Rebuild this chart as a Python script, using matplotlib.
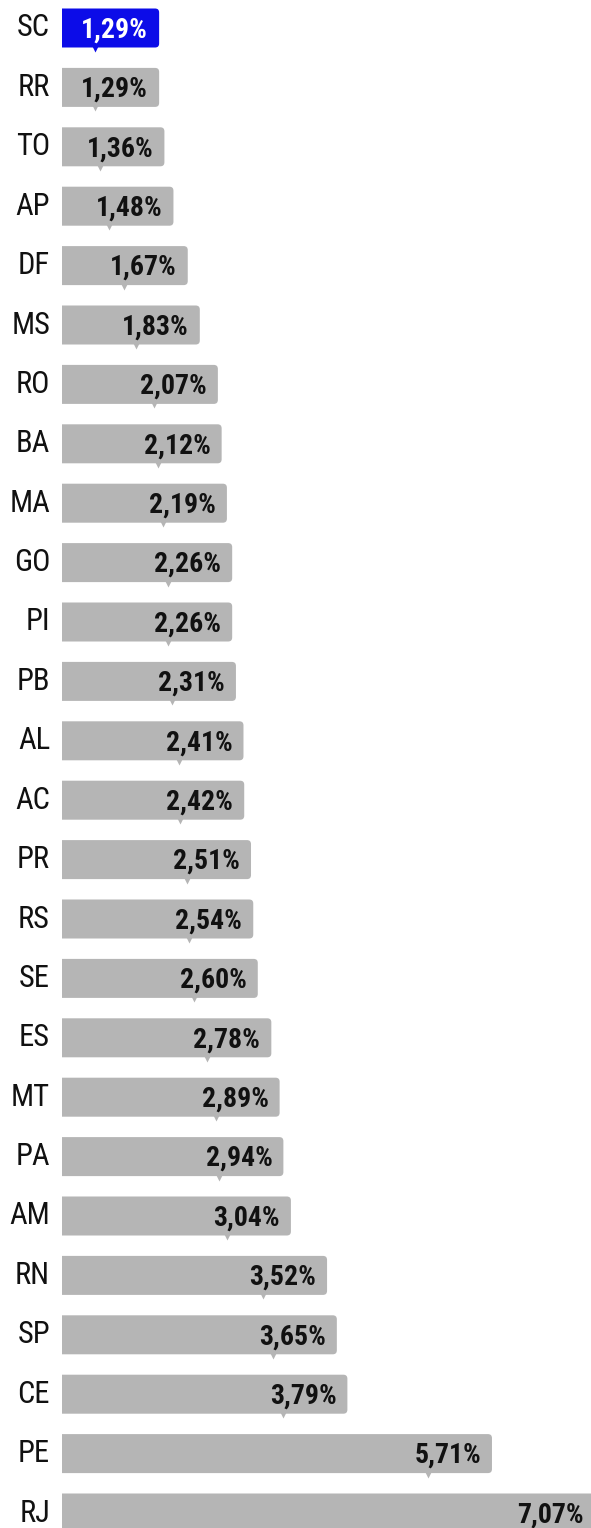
import matplotlib.pyplot as plt
from matplotlib.patches import FancyBboxPatch

estados = ['SC', 'RR', 'TO', 'AP', 'DF', 'MS', 'RO', 'BA', 'MA', 'GO', 'PI', 'PB', 'AL',
           'AC', 'PR', 'RS', 'SE', 'ES', 'MT', 'PA', 'AM', 'RN', 'SP', 'CE', 'PE', 'RJ']
valores = [1.29, 1.29, 1.36, 1.48, 1.67, 1.83, 2.07, 2.12, 2.19, 2.26, 2.26, 2.31, 2.41,
           2.42, 2.51, 2.54, 2.60, 2.78, 2.89, 2.94, 3.04, 3.52, 3.65, 3.79, 5.71, 7.07]
destaque = 'SC'

cinza = '#b5b5b5'
azul = '#0c0ce8'
fonte_rot = ['Roboto Condensed', 'Roboto', 'DejaVu Sans']

fig = plt.figure(figsize=(5.91, 15.28), dpi=100)
ax = fig.add_axes([62 / 591, 0, 1 - 62 / 591, 1])

px = 75.3   # pixels por unidade no eixo x
py = 59.4   # pixels por linha
ax.set_xlim(0, (591 - 62) / px)
ax.set_ylim((1528 - 28) / py, -28 / py)

y = list(range(len(estados)))
cores = [azul if e == destaque else cinza for e in estados]
alt = 39 / py
barras = ax.barh(y, valores, height=alt, color=cores)

# cantos arredondados so a direita (a esquerda fica cortada pelo eixo) + "ponta" embaixo
r = 4 / px
for b, c in zip(barras, cores):
    x0, y0, w, h = b.get_x(), b.get_y(), b.get_width(), b.get_height()
    b.set_visible(False)
    p = FancyBboxPatch((x0 - 2 * r, y0), w + 2 * r, h,
                       boxstyle=f'round,pad=0,rounding_size={r}',
                       mutation_aspect=px / py, fc=c, ec='none')
    ax.add_patch(p)
    ax.plot(x0 + w - 64 / px, y0 + h + 1.5 / py, marker='v', ms=5, color=c,
            mec='none', clip_on=False)

for i, (e, v) in enumerate(zip(estados, valores)):
    ax.text(-12 / px, i, e, ha='right', va='center', fontsize=22, family=fonte_rot,
            color='#111111')
    ax.text(v - 11 / px, i + 2 / py, f'{v:.2f}%'.replace('.', ','), ha='right',
            va='center', fontsize=20, family=fonte_rot, fontweight='bold',
            color='white' if e == destaque else '#111111')

ax.axis('off')

fig.savefig('out.png', dpi=100, facecolor='white')
